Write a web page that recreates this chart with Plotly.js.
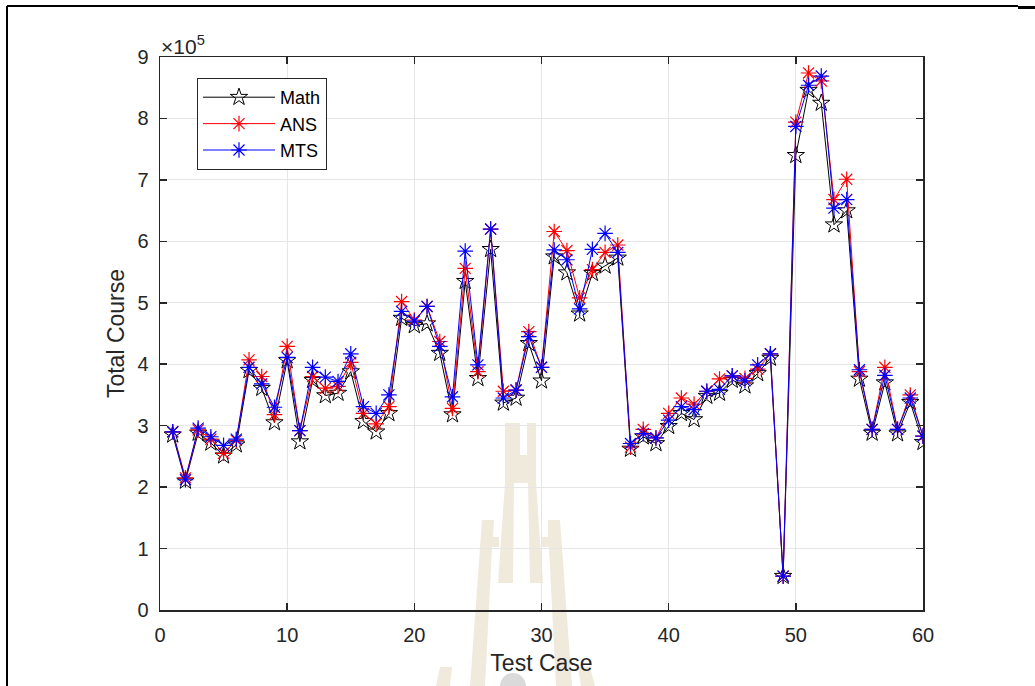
<!DOCTYPE html>
<html>
<head>
<meta charset="utf-8">
<script src="https://cdn.plot.ly/plotly-3.0.1.min.js"></script>
<style>
  html, body { margin: 0; padding: 0; background: #ffffff; }
  #chart { width: 1035px; height: 686px; }
</style>
</head>
<body>
<div id="chart"></div>
<script>
// Test case numbers
const testCase = [1,2,3,4,5,6,7,8,9,10,11,12,13,14,15,16,17,18,19,20,
                  21,22,23,24,25,26,27,28,29,30,31,32,33,34,35,36,37,38,39,40,
                  41,42,43,44,45,46,47,48,49,50,51,52,53,54,55,56,57,58,59,60];

// Total course values, in units of 10^5
const mathVals = [2.85,2.10,2.88,2.72,2.51,2.69,3.90,3.61,3.05,4.06,
                  2.74,3.74,3.49,3.53,3.88,3.07,2.90,3.20,4.75,4.63,
                  4.66,4.18,3.18,5.35,3.77,5.87,3.37,3.45,4.34,3.73,
                  5.75,5.49,4.82,5.48,5.60,5.73,2.62,2.82,2.71,2.99,
                  3.20,3.10,3.48,3.53,3.74,3.65,3.85,4.10,0.55,7.40,
                  8.46,8.25,6.27,6.50,3.76,2.88,3.70,2.87,3.38,2.73];

const ansVals  = [2.90,2.15,2.93,2.78,2.55,2.76,4.07,3.80,3.18,4.29,
                  2.92,3.80,3.61,3.64,4.03,3.20,3.03,3.31,5.02,4.72,
                  4.94,4.37,3.28,5.56,3.88,6.20,3.56,3.58,4.53,3.95,
                  6.16,5.85,5.08,5.54,5.82,5.94,2.65,2.94,2.80,3.20,
                  3.45,3.35,3.56,3.76,3.81,3.77,3.92,4.17,0.55,7.94,
                  8.74,8.61,6.68,7.01,3.88,2.94,3.95,2.94,3.50,2.83];

const mtsVals  = [2.90,2.12,2.96,2.82,2.68,2.78,3.95,3.68,3.30,4.11,
                  2.92,3.95,3.79,3.72,4.17,3.31,3.20,3.50,4.86,4.70,
                  4.94,4.29,3.47,5.84,3.99,6.20,3.45,3.58,4.45,3.95,
                  5.86,5.70,4.90,5.87,6.13,5.82,2.71,2.87,2.80,3.09,
                  3.31,3.26,3.56,3.59,3.81,3.73,3.99,4.17,0.55,7.87,
                  8.54,8.69,6.54,6.68,3.91,2.94,3.82,2.94,3.45,2.83];

const seriesNames = ['Math', 'ANS', 'MTS'];
const xTicks = [0, 10, 20, 30, 40, 50, 60];
const yTicks = [0, 1, 2, 3, 4, 5, 6, 7, 8, 9];

const W = 1035, H = 686;
const M = {l: 160, r: 112, t: 57, b: 76};
const PW = W - M.l - M.r, PH = H - M.t - M.b;
// helpers for decoration (frame / watermark) in page pixels -> paper coords
const px = v => (v - M.l) / PW;
const py = v => (H - M.b - v) / PH;
function poly(pts) {
  return 'M ' + pts.map(p => px(p[0]).toFixed(4) + ' ' + py(p[1]).toFixed(4)).join(' L ') + ' Z';
}

const FONT = 'Liberation Sans, Arial, sans-serif';
const TXT = '#262626';

const traces = [
  {
    x: testCase, y: mathVals, name: seriesNames[0], type: 'scatter', mode: 'lines+markers',
    line: {color: '#000000', width: 1},
    marker: {symbol: 'star-open', size: 13, color: '#000000', line: {width: 1, color: '#000000'}}
  },
  {
    x: testCase, y: ansVals, name: seriesNames[1], type: 'scatter', mode: 'lines+markers',
    line: {color: '#ff0000', width: 1},
    marker: {symbol: 'asterisk-open', size: 13, color: '#ff0000', line: {width: 1.2, color: '#ff0000'}}
  },
  {
    x: testCase, y: mtsVals, name: seriesNames[2], type: 'scatter', mode: 'lines+markers',
    line: {color: '#0000ff', width: 1},
    marker: {symbol: 'asterisk-open', size: 13, color: '#0000ff', line: {width: 1.2, color: '#0000ff'}}
  }
];

const beige = 'rgb(240,234,221)';
const shapes = [
  // watermark (decoration)
  {type: 'path', xref: 'paper', yref: 'paper', layer: 'below', fillcolor: beige, line: {width: 0},
   path: poly([[505,423],[520,423],[520,455],[527,455],[527,423],[536,423],[536,483],[505,483]])},
  {type: 'path', xref: 'paper', yref: 'paper', layer: 'below', fillcolor: beige, line: {width: 0},
   path: poly([[505,483],[514,483],[513,583],[498,583]])},
  {type: 'path', xref: 'paper', yref: 'paper', layer: 'below', fillcolor: beige, line: {width: 0},
   path: poly([[528,483],[536,483],[543,583],[530,583]])},
  {type: 'path', xref: 'paper', yref: 'paper', layer: 'below', fillcolor: beige, line: {width: 0},
   path: poly([[482,520],[494,520],[493,537],[499,537],[499,547],[492,547],[485,686],[470,686]])},
  {type: 'path', xref: 'paper', yref: 'paper', layer: 'below', fillcolor: beige, line: {width: 0},
   path: poly([[548,520],[560,520],[572,686],[556,686],[549,547],[542,547],[542,537],[548,537]])},
  {type: 'path', xref: 'paper', yref: 'paper', layer: 'below', fillcolor: beige, line: {width: 0},
   path: poly([[440,667],[452,667],[450,686],[436,686]])},
  {type: 'path', xref: 'paper', yref: 'paper', layer: 'below', fillcolor: beige, line: {width: 0},
   path: poly([[578,667],[590,667],[595,686],[581,686]])},
  {type: 'circle', xref: 'paper', yref: 'paper', layer: 'below', fillcolor: 'rgb(218,218,218)', line: {width: 0},
   x0: px(500), x1: px(526), y0: py(700), y1: py(673)},
  // page frame (decoration)
  {type: 'line', xref: 'paper', yref: 'paper', x0: px(7), x1: px(1018), y0: py(6), y1: py(6),
   line: {color: '#000000', width: 2}},
  {type: 'line', xref: 'paper', yref: 'paper', x0: px(1018), x1: px(1035), y0: py(7.5), y1: py(7.5),
   line: {color: '#000000', width: 3}},
  {type: 'line', xref: 'paper', yref: 'paper', x0: px(7), x1: px(7), y0: py(6), y1: py(690),
   line: {color: '#000000', width: 2}}
];

const axisCommon = {
  showline: true, linecolor: TXT, linewidth: 1.5, mirror: 'ticks',
  ticks: 'inside', ticklen: 7, tickwidth: 1.5, tickcolor: TXT,
  showgrid: true, gridcolor: '#e6e6e6', gridwidth: 1,
  zeroline: false,
  tickfont: {family: FONT, size: 20, color: TXT}
};

const layout = {
  width: W, height: H,
  margin: M,
  paper_bgcolor: 'rgba(0,0,0,0)',
  plot_bgcolor: 'rgba(0,0,0,0)',
  showlegend: true,
  font: {family: FONT, color: TXT},
  xaxis: Object.assign({}, axisCommon, {
    range: [0, 60], tickmode: 'array', tickvals: xTicks, ticktext: xTicks.map(String),
    ticklabelstandoff: 6,
    title: {text: 'Test Case', font: {family: FONT, size: 23, color: TXT}, standoff: 10}
  }),
  yaxis: Object.assign({}, axisCommon, {
    range: [0, 9], tickmode: 'array', tickvals: yTicks, ticktext: yTicks.map(String),
    ticklabelstandoff: 6,
    title: {text: 'Total Course', font: {family: FONT, size: 23, color: TXT}, standoff: 6}
  }),
  legend: {
    x: px(197), y: py(78), xanchor: 'left', yanchor: 'top',
    bgcolor: '#ffffff', bordercolor: '#262626', borderwidth: 1,
    font: {family: FONT, size: 18, color: '#000000'},
    tracegroupgap: 0, itemwidth: 72
  },
  annotations: [
    {xref: 'paper', yref: 'paper', x: px(159), y: py(45), xanchor: 'left', yanchor: 'middle',
     text: '\u00d710<sup>5</sup>', showarrow: false,
     font: {family: FONT, size: 21, color: TXT}}
  ],
  shapes: shapes
};

Plotly.newPlot('chart', traces, layout, {displayModeBar: false, staticPlot: true});
</script>
</body>
</html>
